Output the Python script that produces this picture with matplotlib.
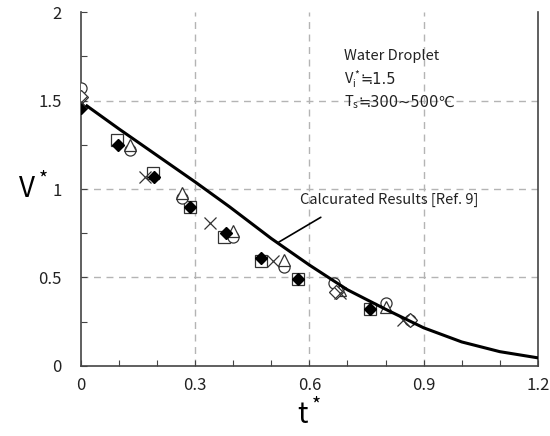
import matplotlib
matplotlib.use('Agg')
import matplotlib.pyplot as plt
from matplotlib.ticker import MultipleLocator

plt.rcParams['font.family'] = ['Noto Sans CJK KR', 'DejaVu Sans']

# --- data ---
calc_t = [0.016, 0.1, 0.2, 0.3, 0.39, 0.5, 0.6, 0.7, 0.8, 0.9, 1.0, 1.1, 1.2]
calc_v = [1.47, 1.34, 1.19, 1.04, 0.90, 0.72, 0.57, 0.43, 0.32, 0.215, 0.135, 0.08, 0.045]

circ_t = [0.0, 0.13, 0.265, 0.40, 0.533, 0.665, 0.80, 0.864]
circ_v = [1.57, 1.22, 0.95, 0.73, 0.56, 0.47, 0.355, 0.26]

tri_t = [0.13, 0.265, 0.40, 0.533, 0.68, 0.80]
tri_v = [1.25, 0.98, 0.76, 0.60, 0.43, 0.335]

sq_t = [0.095, 0.19, 0.286, 0.376, 0.473, 0.57, 0.76]
sq_v = [1.28, 1.09, 0.90, 0.73, 0.59, 0.49, 0.32]

fd_t = [0.0, 0.098, 0.193, 0.286, 0.38, 0.473, 0.57, 0.76]
fd_v = [1.46, 1.25, 1.07, 0.90, 0.75, 0.61, 0.49, 0.32]

x_t = [0.0, 0.168, 0.339, 0.505, 0.68, 0.845]
x_v = [1.49, 1.07, 0.81, 0.59, 0.41, 0.26]

od_t = [0.0, 0.67, 0.864]
od_v = [1.52, 0.42, 0.26]

fig = plt.figure(figsize=(5.5, 4.36), dpi=100)
ax = fig.add_axes([0.147, 0.161, 0.831, 0.811])

GRID = '#b4b4b4'
for gx in [0.3, 0.6, 0.9]:
    ax.axvline(gx, color=GRID, lw=1.0, ls=(0, (5, 4)), zorder=0)
for gy in [0.5, 1.0, 1.5]:
    ax.axhline(gy, color=GRID, lw=1.0, ls=(0, (5, 4)), zorder=0)

ms = 8
ax.plot(sq_t, sq_v, ls='none', marker='s', ms=ms, mfc='white', mec='#333333', mew=0.9, zorder=3)
ax.plot(fd_t, fd_v, ls='none', marker='D', ms=6, mfc='black', mec='black', zorder=4)
ax.plot(circ_t, circ_v, ls='none', marker='o', ms=ms, mfc='white', mec='#333333', mew=0.9, zorder=3)
ax.plot(tri_t, tri_v, ls='none', marker='^', ms=9, mfc='white', mec='#333333', mew=0.9, zorder=3)
ax.plot(od_t, od_v, ls='none', marker='D', ms=7, mfc='white', mec='#333333', mew=0.9, zorder=3)
ax.plot(x_t, x_v, ls='none', marker='x', ms=9, color='#333333', mew=0.9, zorder=4)

ax.plot(calc_t, calc_v, color='black', lw=2.2, zorder=5)

# label + leader line
ax.text(0.575, 0.94, 'Calcurated Results [Ref. 9]', fontsize=10.5, color='#222222', va='center')
ax.annotate('', xy=(0.52, 0.70), xytext=(0.63, 0.84),
            arrowprops=dict(arrowstyle='-', color='black', lw=1.2, shrinkA=0, shrinkB=0))

TXT = dict(fontsize=10.5, color='#222222')
ax.text(0.69, 1.75, 'Water Droplet', va='center', **TXT)
t1 = ax.text(0.69, 1.62, r'$\mathregular{V_i^*}$', va='center', **TXT)
ax.annotate('≒1.5', xy=(1, 0.5), xycoords=t1, va='center', family=['DejaVu Sans'], **TXT)
t2 = ax.text(0.69, 1.49, r'$\mathregular{T_s}$', va='center', **TXT)
ax.annotate('≒300~500℃', xy=(1, 0.5), xycoords=t2, va='center',
            family=['DejaVu Sans'], **TXT)

ax.set_xlim(0, 1.2)
ax.set_ylim(0, 2)
ax.set_xticks([0, 0.3, 0.6, 0.9, 1.2])
ax.set_xticklabels(['0', '0.3', '0.6', '0.9', '1.2'])
ax.set_yticks([0, 0.5, 1, 1.5, 2])
ax.set_yticklabels(['0', '0.5', '1', '1.5', '2'])
ax.xaxis.set_minor_locator(MultipleLocator(0.1))
ax.yaxis.set_minor_locator(MultipleLocator(0.25))
ax.tick_params(which='both', direction='in', length=4, width=0.8, color='#444444',
               labelsize=12, labelcolor='#222222', pad=8)
ax.tick_params(axis='y', pad=14)

for s in ['left', 'bottom', 'right', 'top']:
    ax.spines[s].set_color('#444444')
    ax.spines[s].set_linewidth(1.2)
ax.spines['top'].set_visible(False)

ax.set_xlabel(r'$\mathregular{t^*}$', fontsize=20, labelpad=4)
ax.set_ylabel(r'$\mathregular{V^*}$', fontsize=20, rotation=0, va='center')
ax.yaxis.set_label_coords(-0.105, 0.5)

plt.savefig('out.png', dpi=100)
